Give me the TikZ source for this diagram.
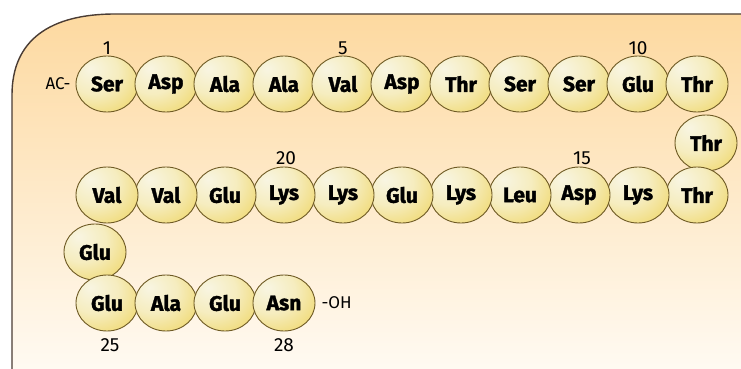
\documentclass[tikz,border=0pt]{standalone}
\usepackage{fontspec}
\setmainfont{Fira Sans}
\newfontfamily\aminofont[BoldFeatures={FakeBold=1.6}]{Fira Sans}
\usetikzlibrary{shapes.geometric}
\definecolor{bgtop}{HTML}{FDD9A0}
\definecolor{bgbot}{HTML}{FFFAF2}
\definecolor{bgline}{HTML}{4A3C34}
\definecolor{amlight}{HTML}{F8F5E2}
\definecolor{ammid}{HTML}{F2E08A}
\definecolor{amdark}{HTML}{ECCB3E}
\definecolor{amline}{HTML}{6E5A24}
\pgfdeclareradialshading{aminoball}{\pgfpoint{-14bp}{14bp}}{%
  color(0bp)=(amlight); color(20bp)=(amlight!60!ammid); color(42bp)=(ammid!60!amdark); color(62bp)=(amdark); color(90bp)=(amdark)}
\tikzset{
  amino/.style={ellipse, draw=amline, line width=0.9pt, shading=aminoball,
    minimum width=62pt, minimum height=56pt, inner sep=0pt,
    font=\aminofont\fontsize{21}{21}\selectfont\bfseries},
  seqnum/.style={font=\fontsize{19}{19}\selectfont},
  term/.style={font=\fontsize{17}{17}\selectfont}
}
\begin{document}
\begin{tikzpicture}[x=1pt,y=-1pt]
\useasboundingbox (0,0) rectangle (741,369);
% background panel
\shade[top color=bgtop, bottom color=bgbot] (12,369) -- (12,95) .. controls (12,40) and (50,14) .. (115,14) -- (741,14) -- (741,369) -- cycle;
\draw[bgline, line width=1.4pt] (12,369) -- (12,95) .. controls (12,40) and (50,14) .. (115,14) -- (741,14);
% first row
\node[amino] (a1) at (107,84) {Ser};
\node[amino] (a2) at (166,84) {Asp};
\node[amino] (a3) at (225,84) {Ala};
\node[amino] (a4) at (284,84) {Ala};
\node[amino] (a5) at (343,84) {Val};
\node[amino] (a6) at (402,84) {Asp};
\node[amino] (a7) at (461,84) {Thr};
\node[amino] (a8) at (520,84) {Ser};
\node[amino] (a9) at (579,84) {Ser};
\node[amino] (a10) at (638,84) {Glu};
\node[amino] (a11) at (697,84) {Thr};
\node[amino] (a12) at (706,143) {Thr};
% second row
\node[amino] (a13) at (697,195) {Thr};
\node[amino] (a14) at (638,195) {Lys};
\node[amino] (a15) at (579,195) {Asp};
\node[amino] (a16) at (520,195) {Leu};
\node[amino] (a17) at (461,195) {Lys};
\node[amino] (a18) at (402,195) {Glu};
\node[amino] (a19) at (343,195) {Lys};
\node[amino] (a20) at (284,195) {Lys};
\node[amino] (a21) at (225,195) {Glu};
\node[amino] (a22) at (166,195) {Val};
\node[amino] (a23) at (107,195) {Val};
\node[amino] (a24) at (95,252) {Glu};
% third row
\node[amino] (a25) at (107,303) {Glu};
\node[amino] (a26) at (166,303) {Ala};
\node[amino] (a27) at (225,303) {Glu};
\node[amino] (a28) at (284,303) {Asn};
% ends and numbers
\node[term, anchor=east] (nterm) at (74,84) {AC-};
\node[term, anchor=west] (cterm) at (318,303) {-OH};
\node[seqnum] (n1) at (107,48) {1};
\node[seqnum] (n5) at (343,48) {5};
\node[seqnum] (n10) at (638,48) {10};
\node[seqnum] (n15) at (582,158) {15};
\node[seqnum] (n20) at (286,158) {20};
\node[seqnum] (n25) at (110,345) {25};
\node[seqnum] (n28) at (284,345) {28};
\end{tikzpicture}
\end{document}
